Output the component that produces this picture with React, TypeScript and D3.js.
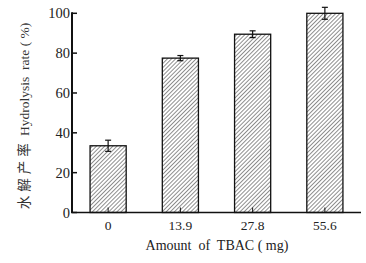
import React from "react";
import * as d3 from "d3";

const categories = ["0", "13.9", "27.8", "55.6"];
const values = [33.5, 77.5, 89.5, 100];
const errors = [2.8, 1.3, 1.7, 3];
const yTicks = [0, 20, 40, 60, 80, 100];

const W = 366, H = 263;
const left = 72, right = 361, top = 13.3, bottom = 212.5;

export default function App() {
  const x = d3.scaleBand<string>().domain(categories).range([left, right]).paddingInner(0.5).paddingOuter(0.25);
  const y = d3.scaleLinear().domain([0, 100]).range([bottom, top]);
  const font = "Liberation Serif, Times New Roman, serif";
  const bw = x.bandwidth();
  return (
    <svg width={W} height={H} style={{ position: "absolute", left: 0, top: 0, background: "#fff" }}>
      <defs>
        <pattern id="hatch" patternUnits="userSpaceOnUse" width={2.9} height={4} patternTransform="rotate(45)">
          <line x1={0} y1={0} x2={0} y2={4} stroke="#333" strokeWidth={1.1} />
        </pattern>
      </defs>
      <rect width={W} height={H} fill="#fff" />
      {categories.map((c, i) => {
        const x0 = x(c)!;
        const cx = x0 + bw / 2;
        return (
          <g key={c}>
            <rect x={x0} y={y(values[i])} width={bw} height={bottom - y(values[i])} fill="url(#hatch)" stroke="#111" strokeWidth={1.3} />
            <line x1={cx} x2={cx} y1={y(values[i] + errors[i])} y2={y(values[i] - errors[i])} stroke="#111" strokeWidth={1.2} />
            <line x1={cx - 3} x2={cx + 3} y1={y(values[i] + errors[i])} y2={y(values[i] + errors[i])} stroke="#111" strokeWidth={1.2} />
            <line x1={cx - 3} x2={cx + 3} y1={y(values[i] - errors[i])} y2={y(values[i] - errors[i])} stroke="#111" strokeWidth={1.2} />
            <line x1={cx} x2={cx} y1={bottom} y2={bottom - 5} stroke="#111" strokeWidth={1} />
            <text x={cx} y={230} textAnchor="middle" fontFamily={font} fontSize={13.5} fill="#222">{c}</text>
          </g>
        );
      })}
      {yTicks.map((t) => (
        <g key={t}>
          <line x1={left} x2={left + 5} y1={y(t)} y2={y(t)} stroke="#111" strokeWidth={1.5} />
          <text x={left - 2} y={y(t) + 5} textAnchor="end" fontFamily={font} fontSize={14.5} fill="#222">{t}</text>
        </g>
      ))}
      <line x1={left} x2={left} y1={top - 1} y2={bottom} stroke="#111" strokeWidth={2} />
      <line x1={left - 1} x2={right} y1={bottom} y2={bottom} stroke="#111" strokeWidth={1.5} />
      <text x={217} y={250} textAnchor="middle" fontFamily={font} fontSize={14} fill="#222" xmlSpace="preserve">Amount  of  TBAC ( mg)</text>
      <text transform={`translate(29, 116) rotate(-90)`} textAnchor="middle" fontFamily={font} fontSize={13.5} fill="#333" xmlSpace="preserve">
        <tspan fontFamily="Noto Sans CJK SC, sans-serif" letterSpacing={4}>水解产率</tspan> Hydrolysis  rate ( %)
      </text>
    </svg>
  );
}
